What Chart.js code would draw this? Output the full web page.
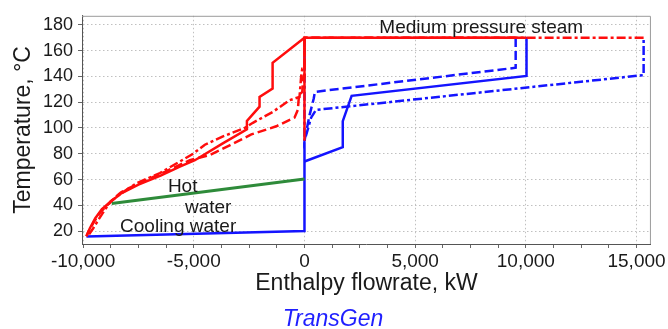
<!DOCTYPE html>
<html>
<head>
<meta charset="utf-8">
<script src="https://cdn.jsdelivr.net/npm/chart.js@4.4.1/dist/chart.umd.min.js"></script>
<style>
  html, body { margin: 0; padding: 0; background: #fff; }
</style>
</head>
<body>
<canvas id="ccChart" width="668" height="329"></canvas>
<script>
// Composite curves, enthalpy flowrate (kW) vs temperature (C)
// steam line + vertical at zero
const steamQ = [10030, 0, 0];
const steamT = [170, 170, 90];

// hot composite curves (red)
const hotSolidQ = [0, -1440, -1440, -2030, -2030, -2600, -2600, -3690, -4950, -5630, -6500, -7500, -8300, -8750, -9150, -9450, -9700, -9850];
const hotSolidT = [170, 150.5, 130.5, 124, 116.5, 105.5, 99, 88, 75, 70, 63, 56, 49, 43, 37, 30, 22, 16];

const hotDashQ = [9540, 0, 0, -50, -100, -250, -300, -450, -1275, -2400, -3380, -4280, -5180, -6300, -7500, -8300, -8750, -9250, -9550, -9750, -9850];
const hotDashT = [170, 170, 140, 140, 128, 125, 114, 108, 101.3, 95, 86.5, 79, 75, 66, 57, 50, 43, 34, 26, 20, 16];

const hotDashDotQ = [15320, 0, 0, -100, -150, -225, -675, -1430, -2330, -2700, -3680, -4500, -5030, -5630, -6530, -7600, -8300, -8750, -9000, -9300, -9550, -9750];
const hotDashDotT = [170, 170, 146, 146, 140, 124, 121.5, 112.5, 104, 100, 93.5, 87, 80, 74, 65, 57, 49, 43, 37, 29, 22, 17];

// hot water (green)
const hotWaterQ = [-8710, 0];
const hotWaterT = [41.5, 60.5];

// cooling water + cold composite curves (blue)
const coolingQ = [-9850, 0, 0];
const coolingT = [15.8, 20, 89];

const coldSolidQ = [0, 1730, 1730, 2130, 10030, 10030];
const coldSolidT = [74, 85.2, 105.3, 124.9, 140.4, 170.5];

const coldDashQ = [0, 230, 420, 470, 9540, 9540];
const coldDashT = [90, 110, 123, 128, 146.7, 170.5];

const coldDashDotQ = [0, 0, 300, 520, 15320, 15320];
const coldDashDotT = [170, 90, 108, 114, 141, 170.5];

const xMajorTicks = [-10000, -5000, 0, 5000, 10000, 15000];
const yTicks = [20, 40, 60, 80, 100, 120, 140, 160, 180];

const labels = [
  { text: 'Medium pressure steam', q: 3380, t: 173.6 },
  { text: 'Hot', q: -6170, t: 50.7 },
  { text: 'water', q: -5400, t: 34 },
  { text: 'Cooling water', q: -8330, t: 19.6 }
];

const RED = '#ff0d0d';
const BLUE = '#1414ff';
const GREEN = '#2e8b3a';

function pts(qs, ts) {
  return qs.map((q, i) => ({ x: q, y: ts[i] }));
}

function line(qs, ts, color, dash, width) {
  return {
    data: pts(qs, ts),
    borderColor: color,
    borderWidth: width || 2.5,
    borderDash: dash || [],
    showLine: true,
    pointRadius: 0,
    fill: false,
    tension: 0
  };
}

Chart.defaults.font.family = '"Liberation Sans", Arial, sans-serif';
Chart.defaults.color = '#1a1a1a';

const framePlugin = {
  id: 'frame',
  afterDraw(chart) {
    const { ctx, chartArea: a, scales } = chart;
    ctx.save();
    // top + right of the box
    ctx.strokeStyle = '#9a9a9a';
    ctx.lineWidth = 1;
    ctx.beginPath();
    ctx.moveTo(a.left, a.top + 0.5);
    ctx.lineTo(a.right - 0.5, a.top + 0.5);
    ctx.lineTo(a.right - 0.5, a.bottom);
    ctx.stroke();

    ctx.fillStyle = '#1a1a1a';
    ctx.font = '19px "Liberation Sans", Arial, sans-serif';
    ctx.textAlign = 'left';
    ctx.textBaseline = 'alphabetic';
    labels.forEach(l => {
      ctx.fillText(l.text, scales.x.getPixelForValue(l.q), scales.y.getPixelForValue(l.t));
    });

    ctx.fillStyle = '#1f1fff';
    ctx.font = 'italic 23px "Liberation Sans", Arial, sans-serif';
    ctx.textAlign = 'center';
    ctx.fillText('TransGen', 333, 326);
    ctx.restore();
  }
};

const minorStep = 1250;

new Chart(document.getElementById('ccChart'), {
  type: 'scatter',
  data: {
    datasets: [
      line(hotSolidQ, hotSolidT, RED),
      line(steamQ, steamT, RED),
      line(hotDashQ, hotDashT, RED, [9, 4]),
      line(hotDashDotQ, hotDashDotT, RED, [9, 3, 3, 3]),
      line(hotWaterQ, hotWaterT, GREEN, [], 3),
      line(coldSolidQ, coldSolidT, BLUE),
      line(coolingQ, coolingT, BLUE),
      line(coldDashQ, coldDashT, BLUE, [9, 4]),
      line(coldDashDotQ, coldDashDotT, BLUE, [9, 3, 3, 3])
    ]
  },
  options: {
    responsive: false,
    animation: false,
    layout: { padding: { top: 10, right: 16, bottom: 0, left: 0 } },
    plugins: {
      legend: { display: false },
      tooltip: { enabled: false }
    },
    scales: {
      x: {
        type: 'linear',
        min: -10050,
        max: 15650,
        afterBuildTicks: (scale) => {
          const t = [];
          for (let v = xMajorTicks[0]; v <= xMajorTicks[xMajorTicks.length - 1]; v += minorStep) t.push({ value: v });
          scale.ticks = t;
        },
        afterFit: (scale) => { scale.height = 85; },
        ticks: {
          autoSkip: false,
          maxRotation: 0,
          padding: 2,
          font: { size: 19 },
          callback: (v) => xMajorTicks.includes(v) ? v.toLocaleString('en-US') : ''
        },
        grid: {
          color: (c) => (c.tick && xMajorTicks.includes(c.tick.value)) ? '#c0c0c0' : 'rgba(0,0,0,0)',
          tickColor: '#666',
          tickLength: 4,
          lineWidth: 1
        },
        border: { color: '#555', width: 1, dash: [1.5, 2.5] },
        title: {
          display: true,
          text: 'Enthalpy flowrate, kW',
          font: { size: 23 },
          padding: { top: 0, bottom: 32 }
        }
      },
      y: {
        type: 'linear',
        min: 10,
        max: 187,
        afterBuildTicks: (scale) => { scale.ticks = yTicks.map(v => ({ value: v })); },
        afterFit: (scale) => { scale.width = 82; },
        ticks: {
          autoSkip: false,
          padding: 5,
          font: { size: 18 }
        },
        grid: {
          color: '#c0c0c0',
          tickColor: '#666',
          tickLength: 4
        },
        border: { color: '#555', width: 1, dash: [1.5, 2.5] },
        title: {
          display: true,
          text: 'Temperature, °C',
          font: { size: 23 },
          padding: { top: 10, bottom: 0 }
        }
      }
    }
  },
  plugins: [framePlugin]
});
</script>
</body>
</html>
